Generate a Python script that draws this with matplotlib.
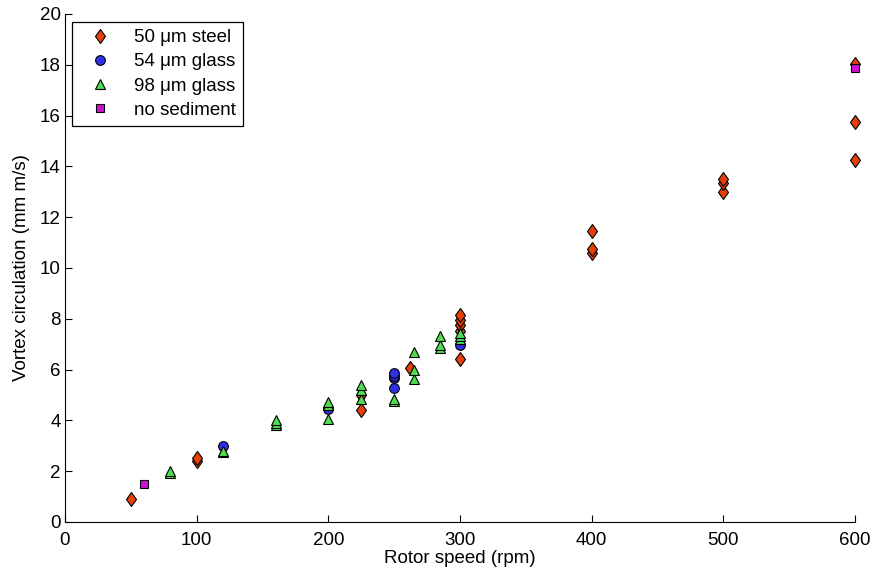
import matplotlib
matplotlib.use("Agg")
import matplotlib.pyplot as plt
from matplotlib.markers import MarkerStyle
from matplotlib.transforms import Affine2D

plt.rcParams['font.family'] = ['Liberation Sans', 'DejaVu Sans']

# 50 um steel
steel_rpm = [50, 100, 100, 225, 225, 262, 300, 300, 300, 300, 300,
             400, 400, 400, 500, 500, 500, 600, 600, 600]
steel_circ = [0.9, 2.4, 2.5, 4.4, 5.0, 6.08, 6.42, 7.5, 7.76, 7.95, 8.13,
              10.6, 10.74, 11.45, 12.98, 13.33, 13.5, 14.25, 15.76, 18.05]

# 54 um glass
g54_rpm = [120, 200, 250, 250, 250, 250, 300]
g54_circ = [3.0, 4.45, 5.27, 5.66, 5.76, 5.85, 6.97]

# 98 um glass
g98_rpm = [80, 80, 120, 120, 160, 160, 160, 200, 200, 200, 225, 225, 225,
           250, 250, 265, 265, 265, 285, 285, 285, 300, 300, 300]
g98_circ = [1.94, 1.99, 2.75, 2.8, 3.8, 3.88, 4.02, 4.05, 4.62, 4.74,
            4.85, 5.2, 5.38, 4.76, 4.86, 5.63, 6.0, 6.71, 6.86, 6.98, 7.33,
            7.22, 7.32, 7.44]

# no sediment
none_rpm = [60, 600]
none_circ = [1.5, 17.88]

fs = 13.5
diamond = MarkerStyle('D', transform=Affine2D().scale(0.75, 1.0))

fig = plt.figure(figsize=(8.77, 5.78), dpi=100)
ax = fig.add_axes([0.0741, 0.0969, 0.9009, 0.8789])

ax.plot(steel_rpm, steel_circ, marker=diamond, color='#E5400A', mec='black',
        mew=0.8, ms=7, linestyle='None', label='50 \u03bcm steel', clip_on=False)
ax.plot(g54_rpm, g54_circ, 'o', color='#3030E8', mec='black', mew=0.8,
        ms=7, linestyle='None', label='54 \u03bcm glass', clip_on=False)
ax.plot(g98_rpm, g98_circ, '^', color='#50DD50', mec='black', mew=0.8,
        ms=7.8, linestyle='None', label='98 \u03bcm glass', clip_on=False)
ax.plot(none_rpm, none_circ, 's', color='#D010D0', mec='black', mew=0.8,
        ms=5.5, linestyle='None', label='no sediment', clip_on=False)

ax.set_xlim(0, 600)
ax.set_ylim(0, 20)
ax.set_xticks([0, 100, 200, 300, 400, 500, 600])
ax.set_yticks(range(0, 21, 2))
ax.spines['top'].set_visible(False)
ax.spines['right'].set_visible(False)
ax.tick_params(direction='in', length=5, labelsize=fs)
ax.tick_params(axis='x', pad=7)
ax.tick_params(axis='y', pad=3)
ax.set_xlabel('Rotor speed (rpm)', fontsize=fs, labelpad=1)
ax.set_ylabel('Vortex circulation (mm m/s)', fontsize=fs, labelpad=7)

leg = ax.legend(loc='upper left', bbox_to_anchor=(0.009, 0.985),
                borderaxespad=0, fontsize=fs, fancybox=False,
                edgecolor='black', framealpha=1, handletextpad=0.7,
                handlelength=2.2, labelspacing=0.38, numpoints=1,
                borderpad=0.4)
leg.get_frame().set_linewidth(0.9)

fig.savefig('out.png', dpi=100)
